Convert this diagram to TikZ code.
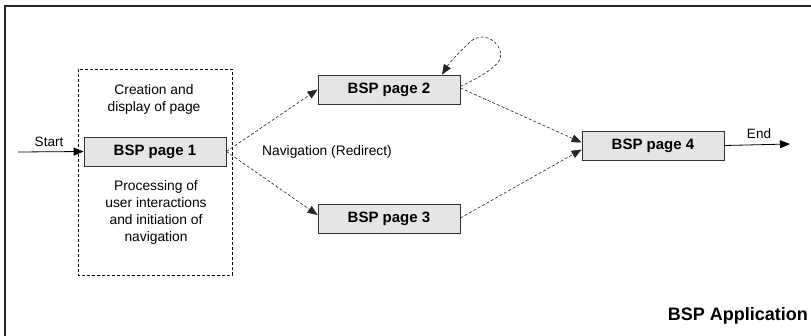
\documentclass[tikz,border=0pt]{standalone}
\usepackage{fontspec}
\setmainfont{Liberation Sans}
\usetikzlibrary{arrows.meta}
\begin{document}
\begin{tikzpicture}[x=1pt,y=-1pt,
  page/.style={draw=black!80, line width=0.8pt, fill=black!10, minimum width=142pt,
    minimum height=29pt, inner sep=0pt, font=\fontsize{15}{18}\selectfont\bfseries},
  note/.style={align=center, font=\fontsize{13.8}{17}\selectfont, inner sep=0pt},
  lbl/.style={font=\fontsize{13.5}{16}\selectfont, inner sep=0pt},
  nav/.style={draw=black!85, line width=0.6pt, dash pattern=on 3pt off 2pt,
    -{Triangle[length=10pt,width=8pt]}},
  flow/.style={draw=black, line width=0.8pt, -{Triangle[length=10pt,width=8pt]}}]
\useasboundingbox (0,0) rectangle (811,335);
% application frame
\draw[line width=1.3pt, black!85] (5,6) rectangle (840,360);
% scope of the first page
\draw[line width=0.8pt, dash pattern=on 3pt off 2pt] (78,69) rectangle (232,275);
\node[note] (create) at (154,99) {Creation and\\display of page};
\node[note] (proc) at (156,212.5) {Processing of\\user interactions\\and initiation of\\navigation};
% pages
\node[page] (p1) at (155,151.5) {BSP page 1};
\node[page] (p2) at (389,89.5) {BSP page 2};
\node[page] (p3) at (389,219) {BSP page 3};
\node[page] (p4) at (653,145.5) {BSP page 4};
% entry and exit
\coordinate (s) at (18,152);
\coordinate (e) at (790,144);
\draw[flow] (s) -- (p1.west);
\node[lbl] (start) at (49,142) {Start};
\draw[flow] (p4.east) -- (e);
\node[lbl] (end) at (759,134) {End};
% navigation between pages
\node[note] (navtxt) at (327,152) {Navigation (Redirect)};
\draw[nav] (p1.east) -- (p2.west);
\draw[nav] (p1.east) -- ([yshift=4pt]p3.west);
\draw[nav] ([yshift=1.5pt]p2.east) -- ([yshift=3pt]p4.west);
\draw[nav] ([yshift=1pt]p3.east) -- ([yshift=-4pt]p4.west);
\draw[nav] ([yshift=3pt]p2.east) .. controls (490,72) and (505,62) .. (500,50)
  .. controls (495,38) and (481,32) .. (470,42)
  .. controls (460,51) and (450,62) .. ([xshift=53pt]p2.north);
% title
\node[anchor=east, inner sep=0pt, font=\fontsize{18}{21}\selectfont\bfseries] (title) at (808,316) {BSP Application};
\end{tikzpicture}
\end{document}
